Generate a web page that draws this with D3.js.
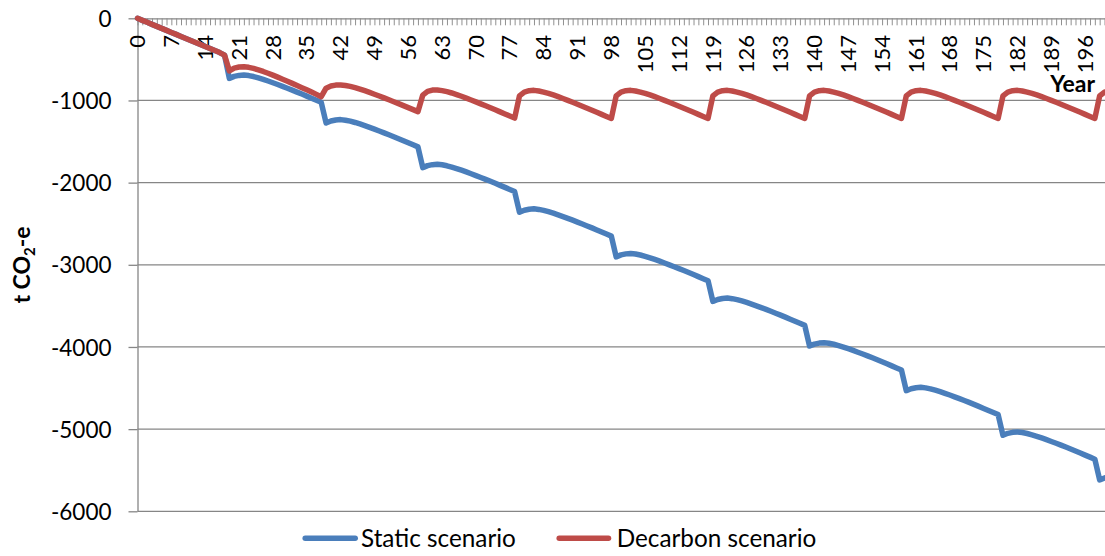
<!DOCTYPE html>
<html><head><meta charset="utf-8">
<script src="https://cdn.jsdelivr.net/npm/d3@7"></script>
<style>
html,body{margin:0;padding:0;background:#fff;}
svg{display:block;}
text{font-family:Lato,"Open Sans",sans-serif;fill:#000;}
</style></head><body>
<svg id="chart" width="1105" height="556"></svg>
<script>
// ---- data ----
const years = d3.range(0, 201);
const xTickLabels = [0,7,14,21,28,35,42,49,56,63,70,77,84,91,98,105,112,119,126,133,140,147,154,161,168,175,182,189,196];
const yTicks = [0,-1000,-2000,-3000,-4000,-5000,-6000];
const seriesNames = ["Static scenario","Decarbon scenario"];
const seriesColors = ["#4a7ebb","#be4b48"];
const staticScenario = [
 0,-25,-49,-74,-98,-123,-147,-172,-196,-221,-245,-270,-294,-319,-343,-368,-392,-417,-448,
 -731,-707,-695,-690,-697,-709,-725,-743,-763,-784,-806,-828,-851,-874,-898,-922,-947,-972,-997,-1022,
 -1274,-1250,-1238,-1233,-1240,-1252,-1268,-1286,-1306,-1327,-1349,-1371,-1394,-1417,-1441,-1465,-1490,-1515,-1540,-1565,
 -1817,-1793,-1781,-1776,-1783,-1795,-1811,-1829,-1849,-1870,-1892,-1914,-1937,-1960,-1984,-2008,-2033,-2058,-2083,-2108,
 -2360,-2336,-2324,-2319,-2326,-2338,-2354,-2372,-2392,-2413,-2435,-2457,-2480,-2503,-2527,-2551,-2576,-2601,-2626,-2651,
 -2903,-2879,-2867,-2862,-2869,-2881,-2897,-2915,-2935,-2956,-2978,-3000,-3023,-3046,-3070,-3094,-3119,-3144,-3169,-3194,
 -3446,-3422,-3410,-3405,-3412,-3424,-3440,-3458,-3478,-3499,-3521,-3543,-3566,-3589,-3613,-3637,-3662,-3687,-3712,-3737,
 -3989,-3965,-3953,-3948,-3955,-3967,-3983,-4001,-4021,-4042,-4064,-4086,-4109,-4132,-4156,-4180,-4205,-4230,-4255,-4280,
 -4532,-4508,-4496,-4491,-4498,-4510,-4526,-4544,-4564,-4585,-4607,-4629,-4652,-4675,-4699,-4723,-4748,-4773,-4798,-4823,
 -5075,-5051,-5039,-5034,-5041,-5053,-5069,-5087,-5107,-5128,-5150,-5172,-5195,-5218,-5242,-5266,-5291,-5316,-5341,-5366,
 -5618,-5594
];
const decarbonScenario = [
 0,-25,-49,-74,-98,-123,-147,-172,-196,-221,-245,-270,-294,-319,-343,-368,-392,-417,-448,
 -640,-606,-593,-590,-597,-610,-627,-647,-669,-692,-716,-741,-766,-792,-818,-844,-871,-898,-926,-954,
 -850,-824,-813,-811,-817,-828,-843,-861,-881,-902,-924,-946,-969,-992,-1015,-1039,-1063,-1087,-1111,-1136,
 -935,-890,-874,-872,-880,-893,-909,-928,-949,-971,-994,-1017,-1041,-1065,-1089,-1114,-1139,-1164,-1189,-1214,
 -945,-898,-881,-877,-885,-898,-914,-933,-954,-976,-999,-1022,-1046,-1070,-1094,-1119,-1144,-1169,-1194,-1219,
 -945,-898,-881,-877,-885,-898,-914,-933,-954,-976,-999,-1022,-1046,-1070,-1094,-1119,-1144,-1169,-1194,-1219,
 -945,-898,-881,-877,-885,-898,-914,-933,-954,-976,-999,-1022,-1046,-1070,-1094,-1119,-1144,-1169,-1194,-1219,
 -945,-898,-881,-877,-885,-898,-914,-933,-954,-976,-999,-1022,-1046,-1070,-1094,-1119,-1144,-1169,-1194,-1219,
 -945,-898,-881,-877,-885,-898,-914,-933,-954,-976,-999,-1022,-1046,-1070,-1094,-1119,-1144,-1169,-1194,-1219,
 -945,-898,-881,-877,-885,-898,-914,-933,-954,-976,-999,-1022,-1046,-1070,-1094,-1119,-1144,-1169,-1194,-1219,
 -945,-898
];

// ---- chart ----
const svg = d3.select('#chart');
const plotL = 137.5, plotR = 1104.5, plotT = 18.3, plotB = 511.3;
const x = d3.scalePoint().domain(years).range([plotL, plotR]);
const y = d3.scaleLinear().domain([-6000, 0]).range([plotB, plotT]);
const gridColor = '#868686';

// gridlines
svg.append('g').selectAll('line')
  .data(yTicks.filter(v => v !== 0)).join('line')
  .attr('x1', plotL).attr('x2', 1105)
  .attr('y1', d => y(d)).attr('y2', d => y(d))
  .attr('stroke', gridColor).attr('stroke-width', 1.3);

// y axis
const yAxis = d3.axisLeft(y).tickValues(yTicks).tickSize(9).tickSizeOuter(0).tickPadding(17)
  .tickFormat(d => String(d));
const gy = svg.append('g').attr('transform', `translate(${plotL},0)`).call(yAxis);
gy.select('.domain').attr('stroke', gridColor).attr('stroke-width', 1.3);
gy.selectAll('.tick line').attr('stroke', gridColor).attr('stroke-width', 1.3);
gy.selectAll('.tick text').attr('font-family', 'Lato').attr('font-size', 22.5).attr('fill', '#000').attr('dy', '0.36em');

// x axis at y=0
const xAxis = d3.axisBottom(x).tickSize(7).tickSizeOuter(0).tickFormat('');
const gx = svg.append('g').attr('transform', `translate(0,${y(0)})`).call(xAxis);
gx.select('.domain').attr('stroke', gridColor).attr('stroke-width', 1.3).attr('d', `M${plotL},0.5H1105`);
gx.selectAll('.tick line').attr('stroke', '#909090').attr('stroke-width', 1);
gx.selectAll('.tick text').remove();

svg.append('g').selectAll('text')
  .data(xTickLabels).join('text')
  .attr('transform', d => `translate(${x(d)},35) rotate(-90)`)
  .attr('text-anchor', 'end').attr('dy', '0.35em')
  .attr('font-size', 22)
  .text(d => d);

// lines
const line = d3.line().x((d, i) => x(years[i])).y(d => y(d));
[staticScenario, decarbonScenario].forEach((s, k) => {
  svg.append('path').datum(s)
    .attr('d', line)
    .attr('fill', 'none')
    .attr('stroke', seriesColors[k])
    .attr('stroke-width', 5.5)
    .attr('stroke-linejoin', 'round')
    .attr('stroke-linecap', 'round');
});

// axis titles
const yt = svg.append('text')
  .attr('transform', 'translate(30,265) rotate(-90)')
  .attr('text-anchor', 'middle')
  .attr('font-weight', 700).attr('font-size', 23);
yt.append('tspan').text('t CO');
yt.append('tspan').attr('font-size', 15).attr('dy', 5).text('2');
yt.append('tspan').attr('dy', -5).text('-e');

svg.append('text')
  .attr('x', 1095).attr('y', 92)
  .attr('text-anchor', 'end')
  .attr('font-weight', 700).attr('font-size', 23)
  .text('Year');

// legend
const legendItems = [
  {x1: 302.7, x2: 357.7, tx: 361},
  {x1: 556.7, x2: 611, tx: 616.7}
];
legendItems.forEach((p, k) => {
  svg.append('line')
    .attr('x1', p.x1 + 2.5).attr('x2', p.x2 - 2.5)
    .attr('y1', 538.3).attr('y2', 538.3)
    .attr('stroke', seriesColors[k]).attr('stroke-width', 5.5)
    .attr('stroke-linecap', 'round');
  svg.append('text')
    .attr('x', p.tx).attr('y', 547.3)
    .attr('font-size', 24.3)
    .text(seriesNames[k]);
});
</script>
</body></html>
